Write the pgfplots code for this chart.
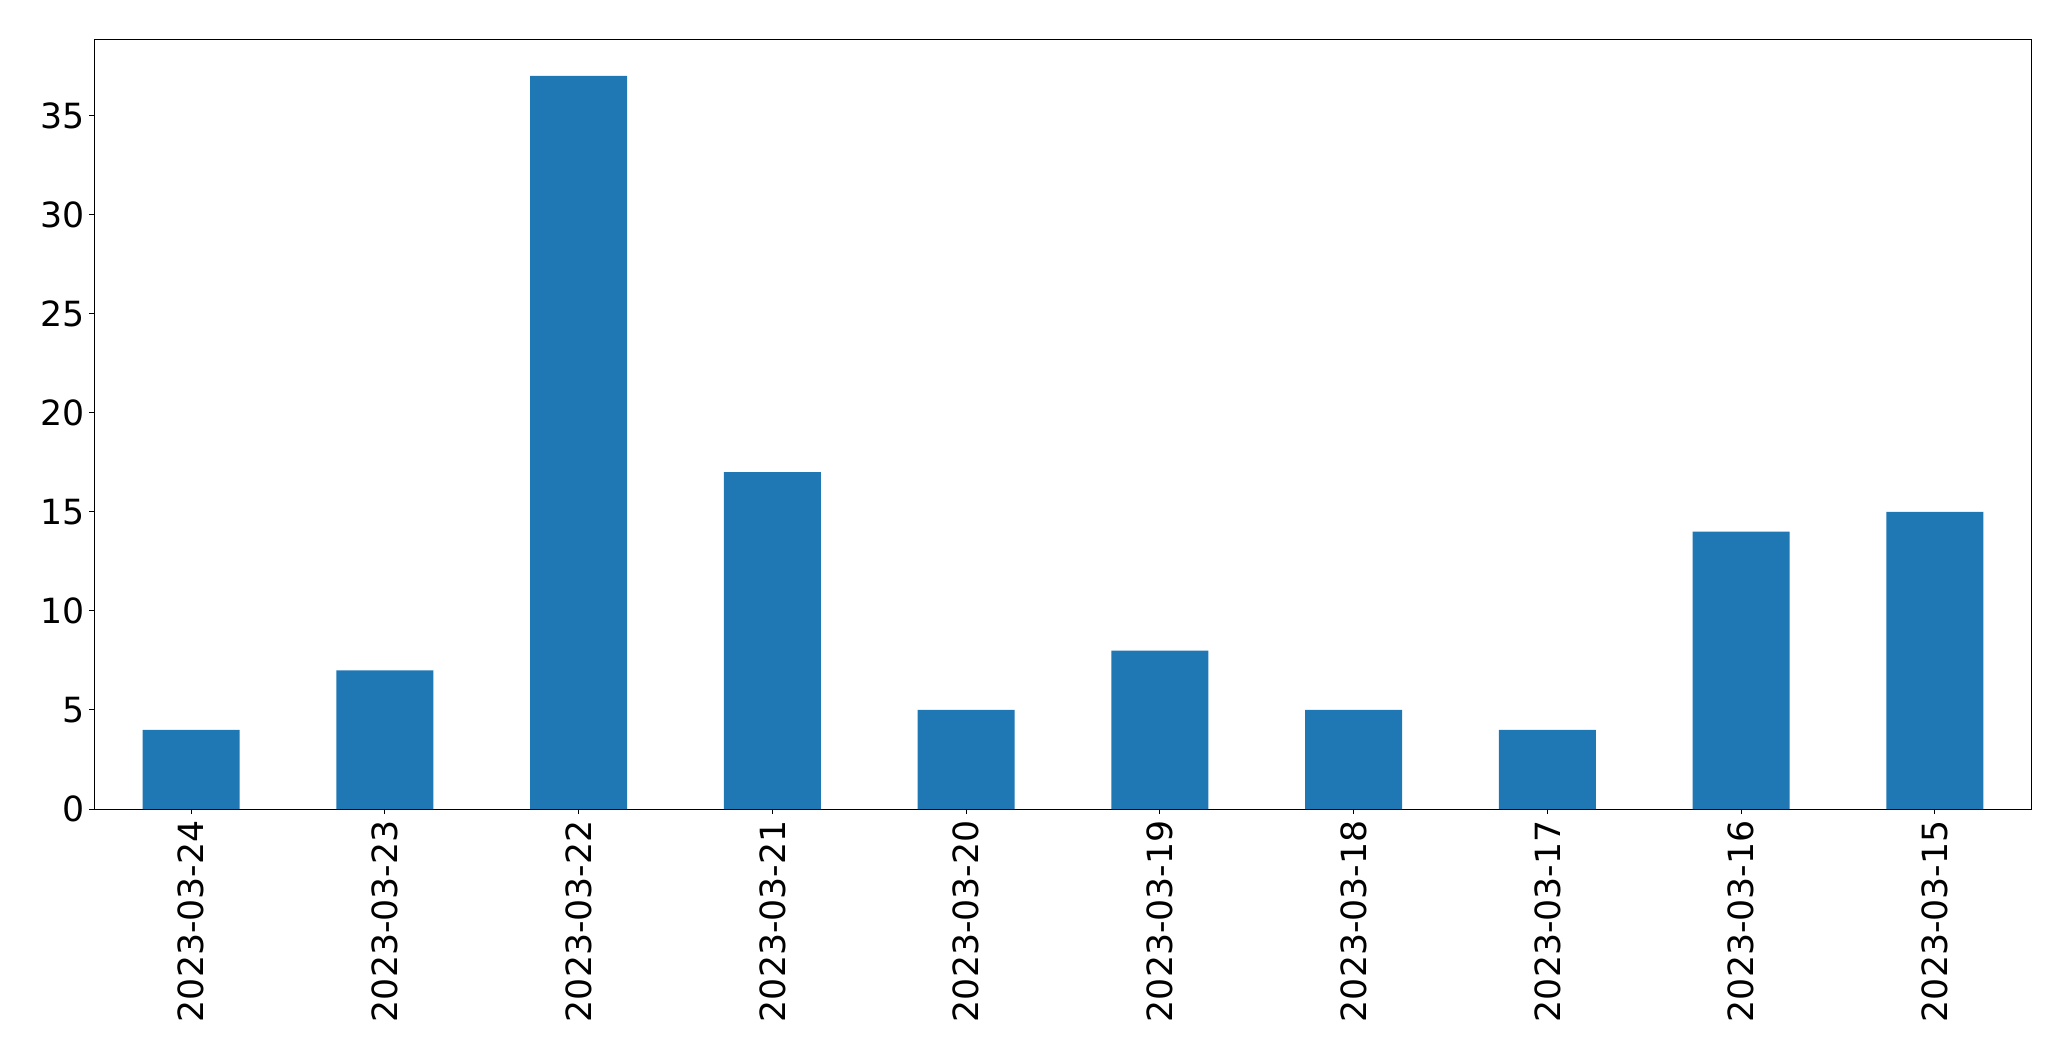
\documentclass[border=0pt]{standalone}
\usepackage{pgfplots}
\pgfplotsset{compat=1.18}
\usepackage{fontspec}
\setmainfont{DejaVu Sans}
\definecolor{mplblue}{HTML}{1F77B4}
\begin{document}
\begin{tikzpicture}
\path[use as bounding box] (-47.15pt,-126pt) rectangle (988.35pt,404.5pt);
\begin{axis}[at={(0,0)}, anchor=south west, scale only axis,
  width=968.7pt, height=384.85pt,
  xmin=-0.5, xmax=9.5, ymin=0, ymax=38.85,
  xtick={0,...,9},
  xticklabels={2023-03-24,2023-03-23,2023-03-22,2023-03-21,2023-03-20,2023-03-19,2023-03-18,2023-03-17,2023-03-16,2023-03-15},
  ytick={0,5,...,35},
  tick align=outside, major tick length=2.5pt,
  tick style={black, line width=0.5pt},
  axis line style={black, line width=0.5pt},
  xtick pos=left, ytick pos=left,
  ticklabel style={font=\fontsize{17.35}{20}\selectfont},
  /pgf/number format/assume math mode=true,
  xticklabel style={rotate=90, anchor=east, inner sep=3pt},
  yticklabel style={inner sep=2pt},
  ybar, bar width=0.5,
]
\addplot[fill=mplblue, draw=none] coordinates {(0,4) (1,7) (2,37) (3,17) (4,5) (5,8) (6,5) (7,4) (8,14) (9,15)};
\end{axis}
\end{tikzpicture}
\end{document}
